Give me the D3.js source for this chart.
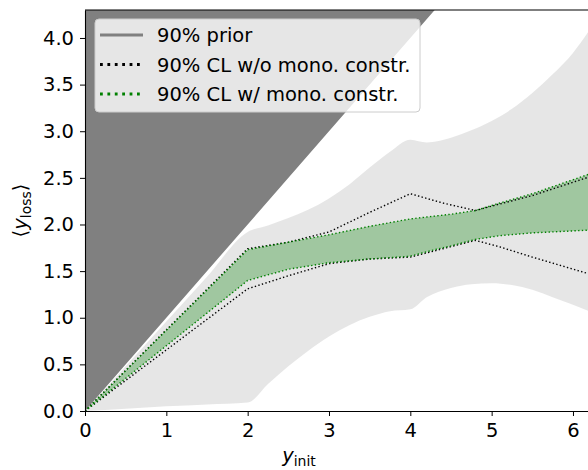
<!DOCTYPE html>
<html>
<head>
<meta charset="utf-8">
<script src="https://cdn.jsdelivr.net/npm/d3@7"></script>
<style>
  body { margin: 0; background: #fff; }
  svg { display: block; font-family: "DejaVu Sans", sans-serif; }
</style>
</head>
<body>
<div id="chart"></div>
<script>
// tick values
const xTicks = [0, 1, 2, 3, 4, 5, 6];
const yTicks = [0, 0.5, 1, 1.5, 2, 2.5, 3, 3.5, 4];

// 90% prior band
const priorX  = [0, 0.5, 1, 1.5, 2, 2.25, 2.5, 2.75, 3, 3.25, 3.5, 3.75, 4, 4.2, 4.5, 4.75, 5, 5.25, 5.5, 5.75, 6, 6.2];
const priorHi = [0, 0.48, 0.96, 1.44, 1.92, 1.99, 2.07, 2.16, 2.28, 2.43, 2.61, 2.78, 2.91, 2.88, 2.93, 3.01, 3.11, 3.24, 3.41, 3.61, 3.84, 4.08];
const priorLo = [0, 0.025, 0.05, 0.07, 0.09, 0.29, 0.48, 0.65, 0.80, 0.92, 1.01, 1.07, 1.09, 1.22, 1.32, 1.36, 1.37, 1.35, 1.30, 1.22, 1.14, 1.07];

// 90% CL with monotonicity constraint
const monoX  = [0, 2, 2.5, 3, 3.5, 4, 4.3, 4.5, 4.8, 5.1, 5.5, 6.2];
const monoUp = [0, 1.73, 1.81, 1.89, 1.98, 2.06, 2.09, 2.11, 2.15, 2.23, 2.33, 2.54];
const monoLo = [0, 1.40, 1.52, 1.59, 1.63, 1.66, 1.73, 1.77, 1.84, 1.88, 1.91, 1.94];

// 90% CL without monotonicity constraint
const freeX  = [0, 2, 2.5, 3, 3.5, 4, 4.4, 4.8, 5.1, 5.5, 6.2];
const freeUp = [0, 1.74, 1.81, 1.92, 2.13, 2.33, 2.23, 2.15, 2.22, 2.31, 2.51];
const freeLo = [0, 1.31, 1.45, 1.58, 1.63, 1.65, 1.74, 1.83, 1.76, 1.65, 1.47];

const legendItems = ['90% prior', '90% CL w/o mono. constr.', '90% CL w/ mono. constr.'];

const W = 588, H = 470;
const margin = { left: 85, top: 10, bottom: 59 };
const xMax = 6.2, yMax = 4.3;
const pxPerX = 81.33;

const x = d3.scaleLinear().domain([0, xMax]).range([margin.left, margin.left + xMax * pxPerX]);
const y = d3.scaleLinear().domain([0, yMax]).range([H - margin.bottom, margin.top]);

const svg = d3.select('#chart').append('svg')
    .attr('width', W)
    .attr('height', H);

svg.append('clipPath').attr('id', 'plot-clip')
  .append('rect')
    .attr('x', x(0)).attr('y', y(yMax))
    .attr('width', W - x(0)).attr('height', y(0) - y(yMax));

const plot = svg.append('g').attr('clip-path', 'url(#plot-clip)');

// unphysical region y > x
plot.append('path')
    .datum([0, xMax])
    .attr('fill', '#808080')
    .attr('d', d3.area().x(d => x(d)).y0(d => y(d)).y1(() => y(yMax)));

// prior band
plot.append('path')
    .datum(priorX.map((v, i) => [v, priorLo[i], priorHi[i]]))
    .attr('fill', '#808080')
    .attr('fill-opacity', 0.2)
    .attr('d', d3.area().curve(d3.curveMonotoneX)
        .x(d => x(d[0])).y0(d => y(d[1])).y1(d => y(d[2])));

// mono band fill
plot.append('path')
    .datum(monoX.map((v, i) => [v, monoLo[i], monoUp[i]]))
    .attr('fill', 'green')
    .attr('fill-opacity', 0.3)
    .attr('d', d3.area().x(d => x(d[0])).y0(d => y(d[1])).y1(d => y(d[2])));

const line = d3.line().x(d => x(d[0])).y(d => y(d[1]));

function dotted(xs, ys, color) {
    plot.append('path')
        .datum(xs.map((v, i) => [v, ys[i]]))
        .attr('fill', 'none')
        .attr('stroke', color)
        .attr('stroke-width', 1.4)
        .attr('stroke-dasharray', '1.4,2.3')
        .attr('d', line);
}

dotted(freeX, freeUp, '#000');
dotted(freeX, freeLo, '#000');
dotted(monoX, monoUp, 'green');
dotted(monoX, monoLo, 'green');

// axes
const xAxis = svg.append('g')
    .attr('transform', `translate(0,${y(0)})`)
    .call(d3.axisBottom(x).tickValues(xTicks).tickFormat(d3.format('d')).tickSize(5).tickPadding(7).tickSizeOuter(0));
const yAxis = svg.append('g')
    .attr('transform', `translate(${x(0)},0)`)
    .call(d3.axisLeft(y).tickValues(yTicks).tickFormat(d3.format('.1f')).tickSize(5).tickPadding(6).tickSizeOuter(0));

[xAxis, yAxis].forEach(a => {
    a.selectAll('text').attr('font-size', 19.5).attr('font-family', '"DejaVu Sans", sans-serif').attr('fill', '#000');
    a.selectAll('line').attr('stroke', '#000').attr('stroke-width', 1);
    a.select('.domain').attr('stroke', '#000').attr('stroke-width', 1.1);
});

// top spine
svg.append('line')
    .attr('x1', x(0)).attr('x2', W)
    .attr('y1', y(yMax)).attr('y2', y(yMax))
    .attr('stroke', '#000').attr('stroke-width', 1.1);

// axis labels
const xl = svg.append('text')
    .attr('x', 299).attr('y', 462)
    .attr('text-anchor', 'middle')
    .attr('font-size', 19.5);
xl.append('tspan').attr('font-style', 'italic').text('y');
xl.append('tspan').attr('font-size', 14).attr('dy', 4).text('init');

const yl = svg.append('text')
    .attr('transform', `translate(27,${(y(0) + y(yMax)) / 2}) rotate(-90)`)
    .attr('text-anchor', 'middle')
    .attr('font-size', 19.5);
yl.append('tspan').text('\u27e8');
yl.append('tspan').attr('font-style', 'italic').text('y');
yl.append('tspan').attr('font-size', 14).attr('dy', 4).text('loss');
yl.append('tspan').attr('dy', -4).text('\u27e9');

// legend
const lg = svg.append('g');
lg.append('rect')
    .attr('x', 95).attr('y', 19)
    .attr('width', 325).attr('height', 93)
    .attr('rx', 4)
    .attr('fill', '#fff').attr('fill-opacity', 0.8)
    .attr('stroke', '#ccc').attr('stroke-width', 1);

const handles = [
    { stroke: '#808080', width: 3, dash: null },
    { stroke: '#000', width: 2.8, dash: '2.8,4.6' },
    { stroke: 'green', width: 2.8, dash: '2.8,4.6' }
];

legendItems.forEach((label, i) => {
    const cy = 35 + i * 29.5;
    const h = handles[i];
    lg.append('line')
        .attr('x1', 100).attr('x2', 143)
        .attr('y1', cy).attr('y2', cy)
        .attr('stroke', h.stroke)
        .attr('stroke-width', h.width)
        .attr('stroke-dasharray', h.dash);
    lg.append('text')
        .attr('x', 157).attr('y', cy + 7)
        .attr('font-size', 19.5)
        .text(label);
});
</script>
</body>
</html>
